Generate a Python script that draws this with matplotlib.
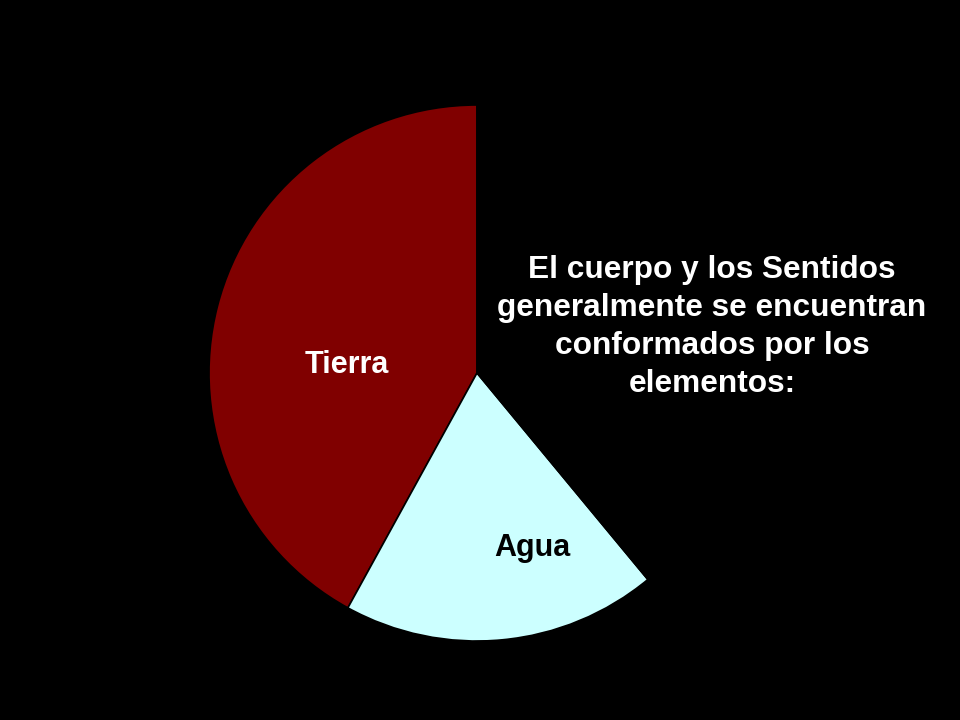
import matplotlib
matplotlib.use("Agg")
import matplotlib.pyplot as plt

# slices, counter-clockwise starting at the top
labels = ["Tierra", "Agua", ""]
values = [42, 19, 39]
colors = ["#800000", "#ccffff", "#000000"]
label_colors = ["white", "black", "black"]

title = "El cuerpo y los Sentidos\ngeneralmente se encuentran\nconformados por los\nelementos:"

plt.rcParams["font.family"] = ["Liberation Sans", "DejaVu Sans"]

fig = plt.figure(figsize=(9.6, 7.2), dpi=100, facecolor="black")
# pie centred near (477, 373) px, radius ~268 px
ax = fig.add_axes([209 / 960, 79 / 720, 536 / 960, 536 / 720])
ax.set_facecolor("black")

wedges, texts = ax.pie(values, colors=colors, startangle=90, counterclock=True,
                       labels=labels, labeldistance=None,
                       wedgeprops=dict(edgecolor="black", linewidth=1.2))
ax.set_xlim(-1, 1)
ax.set_ylim(-1, 1)
ax.set_aspect("equal")
ax.axis("off")

# label positions inside the slices
label_pos = [(-0.485, 0.03), (0.205, -0.653)]
for (x, y), lab, c in zip(label_pos, labels, label_colors):
    ax.text(x, y, lab, color=c, fontsize=22, fontweight="bold",
            ha="center", va="center")

fig.text(712 / 960, 1 - 327 / 720, title, color="white", fontsize=22.8,
         fontweight="bold", ha="center", va="center", linespacing=1.35)

fig.savefig("out.png", dpi=100, facecolor="black")
